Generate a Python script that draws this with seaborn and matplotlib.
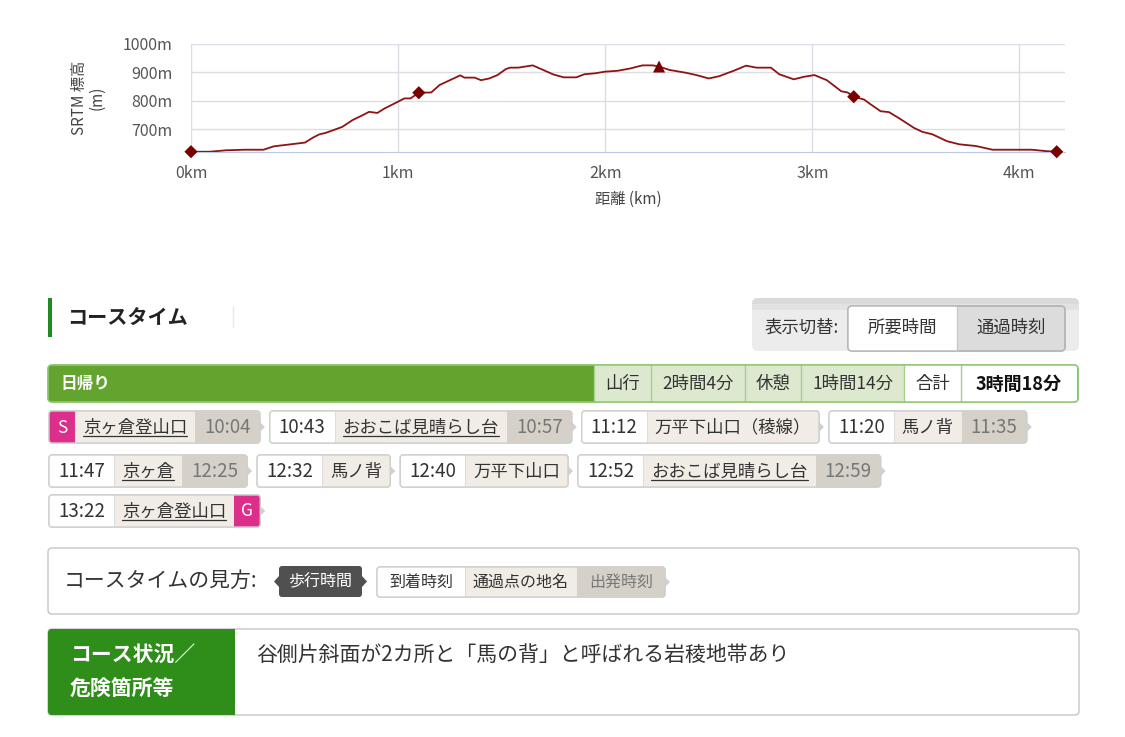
import numpy as np
import pandas as pd
import seaborn as sns
import matplotlib.pyplot as plt
from matplotlib.patches import FancyBboxPatch, Rectangle, Polygon

sns.set_style("white")
plt.rcParams['font.family'] = ['Noto Sans CJK JP', 'DejaVu Sans']

# elevation profile (km, m)
dist_km = [0.0, 0.09, 0.17, 0.26, 0.35, 0.40, 0.47, 0.55, 0.59, 0.62, 0.65, 0.73, 0.78,
           0.82, 0.86, 0.90, 0.935, 0.99, 1.03, 1.06, 1.10, 1.16, 1.20, 1.25, 1.30, 1.32,
           1.37, 1.40, 1.44, 1.48, 1.52, 1.54, 1.58, 1.65, 1.70, 1.75, 1.80, 1.86, 1.90,
           1.95, 2.00, 2.06, 2.12, 2.18, 2.23, 2.26, 2.31, 2.39, 2.44, 2.50, 2.55, 2.62,
           2.68, 2.73, 2.80, 2.84, 2.91, 2.96, 3.01, 3.07, 3.14, 3.17, 3.20, 3.25, 3.28,
           3.33, 3.37, 3.42, 3.49, 3.53, 3.58, 3.65, 3.71, 3.79, 3.87, 3.97, 4.06, 4.13, 4.18]
elev_m = [622, 622, 627, 629, 629, 641, 647, 654, 672, 683, 688, 709, 733,
          747, 762, 758, 774, 794, 809, 809, 829, 830, 856, 873, 890, 882,
          882, 873, 879, 891, 912, 917, 917, 925, 909, 893, 883, 883, 894,
          897, 903, 906, 914, 925, 925, 921, 909, 899, 891, 879, 887, 906,
          924, 917, 917, 894, 876, 885, 891, 873, 834, 830, 815, 805, 789,
          764, 761, 739, 706, 692, 683, 659, 648, 642, 629, 629, 629, 624, 622]
point_km = [0.0, 1.10, 3.20, 4.18]
point_m = [622, 829, 815, 622]
peak_km = [2.26]
peak_m = [921]
x_ticks = [0, 1, 2, 3, 4]
y_ticks = [700, 800, 900, 1000]

# summary bar
summary_labels = ['山行', '2時間4分', '休憩', '1時間14分', '合計', '3時間18分']
summary_kind = ['g', 'g', 'g', 'g', 'w', 'wb']

# course time chips
arrive = [None, '10:43', '11:12', '11:20', '11:47', '12:32', '12:40', '12:52', '13:22']
places = ['京ヶ倉登山口', 'おおこば見晴らし台', '万平下山口（稜線）', '馬ノ背', '京ヶ倉',
          '馬ノ背', '万平下山口', 'おおこば見晴らし台', '京ヶ倉登山口']
depart = ['10:04', '10:57', None, '11:35', '12:25', None, None, '12:59', None]
linked = [True, True, False, False, True, False, False, True, True]
chip_row = [0, 0, 0, 0, 1, 1, 1, 1, 2]

legend_cells = ['到着時刻', '通過点の地名', '出発時刻']
condition = '谷側片斜面が2カ所と「馬の背」と呼ばれる岩稜地帯あり'

W, H = 1125, 737
fig = plt.figure(figsize=(W / 100, H / 100), dpi=100)

# ---- elevation chart
ax = fig.add_axes([191 / W, 1 - 152 / H, 874 / W, 108 / H])
df = pd.DataFrame({'km': dist_km, 'm': elev_m})
sns.lineplot(data=df, x='km', y='m', ax=ax, color='#8e1414', lw=1.3, zorder=3)
sns.scatterplot(x=point_km, y=point_m, ax=ax, marker='D', s=45, color='#7a0000',
                edgecolor='none', clip_on=False, zorder=4)
sns.scatterplot(x=peak_km, y=peak_m, ax=ax, marker='^', s=75, color='#7a0000',
                edgecolor='none', clip_on=False, zorder=4)
ax.set_xlim(0, 4.22)
ax.set_ylim(621, 1000)
ax.set_xticks(x_ticks)
ax.set_xticklabels([f'{t}km' for t in x_ticks])
ax.set_yticks(y_ticks)
ax.set_yticklabels([f'{t}m' for t in y_ticks])
ax.grid(True, color='#dcdce4', lw=1)
for s in ['top', 'right', 'left']:
    ax.spines[s].set_visible(False)
ax.spines['bottom'].set_color('#b8c8e6')
ax.tick_params(axis='x', length=0, pad=9, labelsize=11.5, labelcolor='#555')
ax.tick_params(axis='y', length=0, pad=13, labelsize=11.5, labelcolor='#555')
ax.set_xlabel('距離 (km)', fontsize=11, color='#444')
ax.xaxis.set_label_coords(0.5, -0.36)
ax.set_ylabel('SRTM 標高\n(m)', fontsize=11, color='#444', linespacing=1.0)
ax.yaxis.set_label_coords(-0.098, 0.5)

# ---- page elements in pixel coordinates
ui = fig.add_axes([0, 0, 1, 1], zorder=-1)
ui.set_xlim(0, W)
ui.set_ylim(H, 0)
ui.axis('off')
renderer = fig.canvas.get_renderer()


def text_w(s, size, weight='normal'):
    t = ui.text(0, 0, s, fontsize=size, fontweight=weight)
    w = t.get_window_extent(renderer).width
    t.remove()
    return w


def rbox(x0, y0, x1, y1, fc, ec='none', r=3, lw=1, z=1):
    p = FancyBboxPatch((x0, y0), x1 - x0, y1 - y0, boxstyle=f'round,pad=0,rounding_size={r}',
                       fc=fc, ec=ec, lw=lw, zorder=z)
    ui.add_patch(p)
    return p


cell_fc = {'arr': 'white', 'name': '#f1ede6', 'dep': '#d6d1c8', 'S': '#dc2f8b', 'G': '#dc2f8b'}
cell_tc = {'arr': '#333333', 'name': '#333333', 'dep': '#777777', 'S': 'white', 'G': 'white'}
cell_pad = {'arr': 12, 'name': 8, 'dep': 12}


def chip(x, y, h, cells, size, time_size=None):
    widths, sizes = [], []
    for txt, kind, _ in cells:
        sz = time_size if (time_size and kind in ('arr', 'dep')) else size
        sizes.append(sz)
        if kind in ('S', 'G'):
            widths.append(26)
        elif time_size and kind in ('arr', 'dep'):
            widths.append(text_w(txt, sz) + 2 * 9)
        else:
            widths.append(text_w(txt, sz) + 2 * cell_pad[kind])
    x_end = x + sum(widths)
    outer = rbox(x, y, x_end, y + h, 'white', '#cfcfcf', r=3, z=2)
    cx = x
    for (txt, kind, line), w, sz in zip(cells, widths, sizes):
        rect = Rectangle((cx, y), w, h, fc=cell_fc[kind], ec='none', zorder=2.5)
        ui.add_patch(rect)
        rect.set_clip_path(outer)
        ui.text(cx + w / 2, y + h / 2 + 0.5, txt, fontsize=sz, color=cell_tc[kind],
                ha='center', va='center', zorder=3)
        if line:
            tw = text_w(txt, sz)
            ui.plot([cx + w / 2 - tw / 2, cx + w / 2 + tw / 2], [y + h / 2 + 9, y + h / 2 + 9],
                    color='#333', lw=0.9, zorder=3)
        if cx > x and kind == 'name':
            ui.plot([cx, cx], [y, y + h], color='#dddddd', lw=0.8, zorder=2.6)
        cx += w
    rbox(x, y, x_end, y + h, 'none', '#cfcfcf', r=3, z=3.5)
    ui.add_patch(Polygon([[x_end, y + h / 2 - 5], [x_end + 5, y + h / 2], [x_end, y + h / 2 + 5]],
                         closed=True, fc='#d0d0d0', ec='none', zorder=2))
    return x_end


# heading
ui.add_patch(Rectangle((48, 298), 4, 39, fc='#218a21', ec='none'))
ui.text(67, 318, 'コースタイム', fontsize=14.5, fontweight='bold', color='#222', va='center')
ui.plot([233, 233], [306, 327], color='#d8eef4', lw=1)

# display toggle
rbox(752, 298, 1079, 351, '#ececec', 'none', r=6)
rbox(752, 298, 1079, 310, '#dadada', 'none', r=6)
ui.add_patch(Rectangle((752, 304), 327, 6, fc='#e2e2e2', ec='none', zorder=1))
ui.text(765, 328, '表示切替:', fontsize=12.5, color='#333', va='center')
rbox(848, 306, 1065, 351, '#dcdcdc', '#b5b5b5', r=4, z=2)
rbox(848, 306, 957, 351, 'white', 'none', r=4, z=2.1)
ui.add_patch(Rectangle((900, 306.5), 57, 44, fc='white', ec='none', zorder=2.1))
rbox(848, 306, 1065, 351, 'none', '#b5b5b5', r=4, z=2.5)
ui.plot([957, 957], [306, 351], color='#c8c8c8', lw=1, zorder=2.6)
ui.text(902, 328, '所要時間', fontsize=12.5, color='#333', ha='center', va='center', zorder=3)
ui.text(1011, 328, '通過時刻', fontsize=12.5, color='#333', ha='center', va='center', zorder=3)

# summary bar
bar = rbox(48, 365, 1078, 402, '#62a42e', '#8cc46c', r=4, z=1)
ui.text(60, 383.5, '日帰り', fontsize=12, fontweight='bold', color='white', va='center', zorder=3)
sw = []
for lab, k in zip(summary_labels, summary_kind):
    wgt = 'bold' if k == 'wb' else 'normal'
    sz = 13 if k == 'wb' else 12.5
    sw.append(text_w(lab, sz, wgt) + 2 * (15 if k == 'wb' else 11))
cx = 1077 - sum(sw)
for lab, k, w in zip(summary_labels, summary_kind, sw):
    r = Rectangle((cx, 365), w, 37, fc='#dce9cf' if k == 'g' else 'white', ec='none', zorder=1.5)
    ui.add_patch(r)
    r.set_clip_path(bar)
    ui.plot([cx, cx], [365, 402], color='#a6d08a', lw=1, zorder=1.6)
    wgt = 'bold' if k == 'wb' else 'normal'
    ui.text(cx + w / 2, 384, lab, fontsize=13 if k == 'wb' else 12.5, fontweight=wgt,
            color='#111' if k == 'wb' else '#333', ha='center', va='center', zorder=3)
    cx += w
rbox(48, 365, 1078, 402, 'none', '#8cc46c', r=4, z=1.7)

# course time rows
row_top = [411, 455, 495]
row_x = [49, 49, 49]
for i in range(len(places)):
    cells = []
    if i == 0:
        cells.append(('S', 'S', False))
    if arrive[i]:
        cells.append((arrive[i], 'arr', False))
    cells.append((places[i], 'name', linked[i]))
    if depart[i]:
        cells.append((depart[i], 'dep', False))
    if i == len(places) - 1:
        cells.append(('G', 'G', False))
    r = chip_row[i]
    end = chip(row_x[r], row_top[r], 32, cells, 12.5, time_size=13.5)
    row_x[r] = end + 10

# legend box
rbox(48, 548, 1079, 614, 'white', '#c6c6c6', r=4)
ui.text(64, 581, 'コースタイムの見方:', fontsize=15, color='#333', va='center')
rbox(279, 566, 362, 597, '#505050', 'none', r=3, z=2)
ui.add_patch(Polygon([[279, 576], [274, 581.5], [279, 587]], closed=True, fc='#505050', ec='none', zorder=2))
ui.add_patch(Polygon([[362, 576], [367, 581.5], [362, 587]], closed=True, fc='#505050', ec='none', zorder=2))
ui.text(320.5, 582, '歩行時間', fontsize=11.5, color='white', ha='center', va='center', zorder=3)
chip(377, 567, 30, [(legend_cells[0], 'arr', False), (legend_cells[1], 'name', False),
                    (legend_cells[2], 'dep', False)], 11.5)

# condition box
box = rbox(48, 629, 1079, 715, 'white', '#c6c6c6', r=4)
g = Rectangle((48, 629), 187, 86, fc='#2e8e19', ec='none', zorder=1.5)
ui.add_patch(g)
g.set_clip_path(box)
ui.text(70, 655, 'コース状況／', fontsize=15, fontweight='bold', color='white', va='center', zorder=3)
ui.text(70, 689, '危険箇所等', fontsize=15, fontweight='bold', color='white', va='center', zorder=3)
ui.text(256, 655, condition, fontsize=15, color='#333', va='center', zorder=3)

fig.savefig('out.png', dpi=100, facecolor='white')
